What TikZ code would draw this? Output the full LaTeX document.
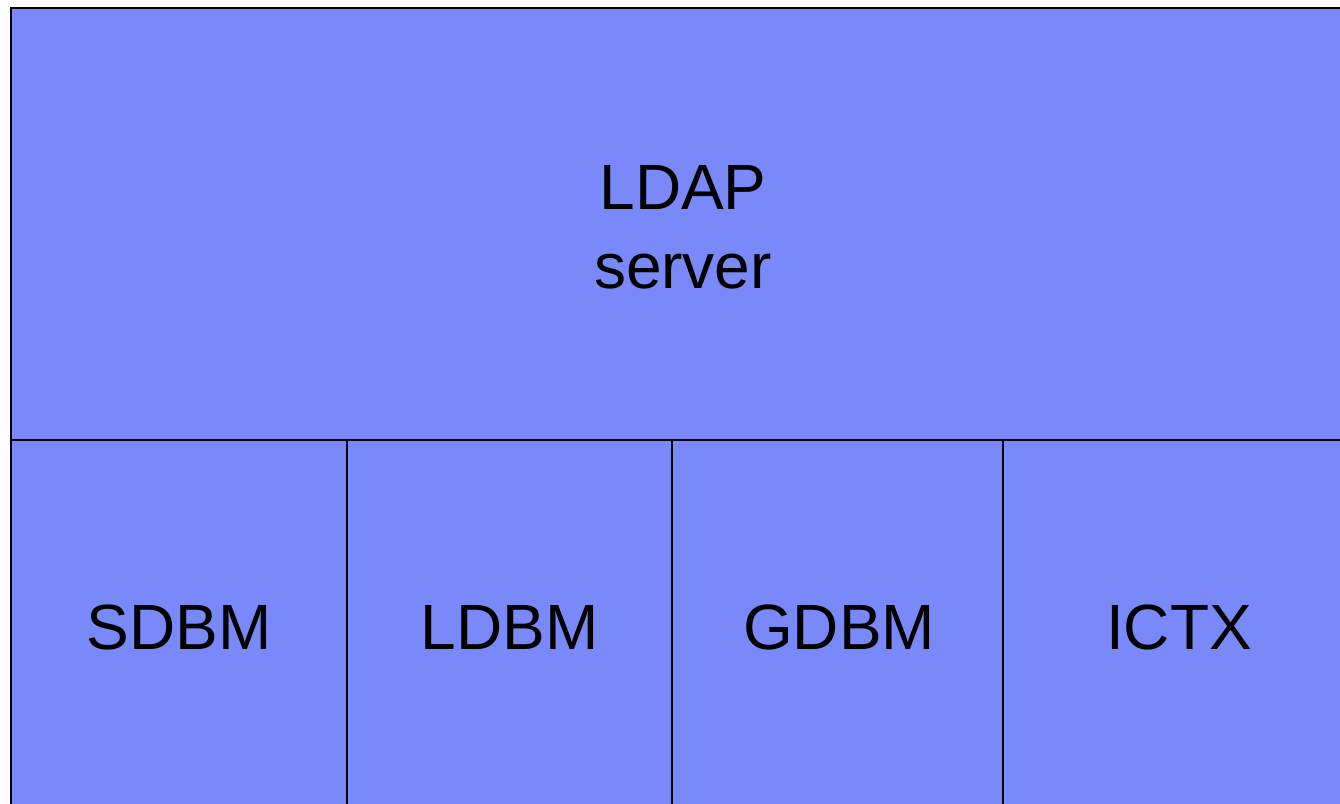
\documentclass[tikz,border=0pt]{standalone}
\usepackage{fontspec}
\setmainfont{Liberation Sans}
\definecolor{boxfill}{RGB}{122,137,250}
\begin{document}
\begin{tikzpicture}[x=1pt,y=-1pt,
  lbl/.style={font=\fontsize{64}{79}\selectfont,align=center,text=black}]
\useasboundingbox (0,0) rectangle (1340,803);
\clip (0,0) rectangle (1340,803);
\fill[boxfill] (11,8) rectangle (1355,809);
\draw[line width=2pt] (11,8) rectangle (1355,809);
\draw[line width=2pt] (11,440) -- (1355,440);
\draw[line width=2pt] (347,440) -- (347,809);
\draw[line width=2pt] (672,440) -- (672,809);
\draw[line width=2pt] (1003,440) -- (1003,809);
\node[lbl] (ldap) at (683,227) {LDAP\\server};
\node[lbl] (sdbm) at (179,627) {SDBM};
\node[lbl] (ldbm) at (509.5,627) {LDBM};
\node[lbl] (gdbm) at (839,627) {GDBM};
\node[lbl] (ictx) at (1179,627) {ICTX};
\end{tikzpicture}
\end{document}
